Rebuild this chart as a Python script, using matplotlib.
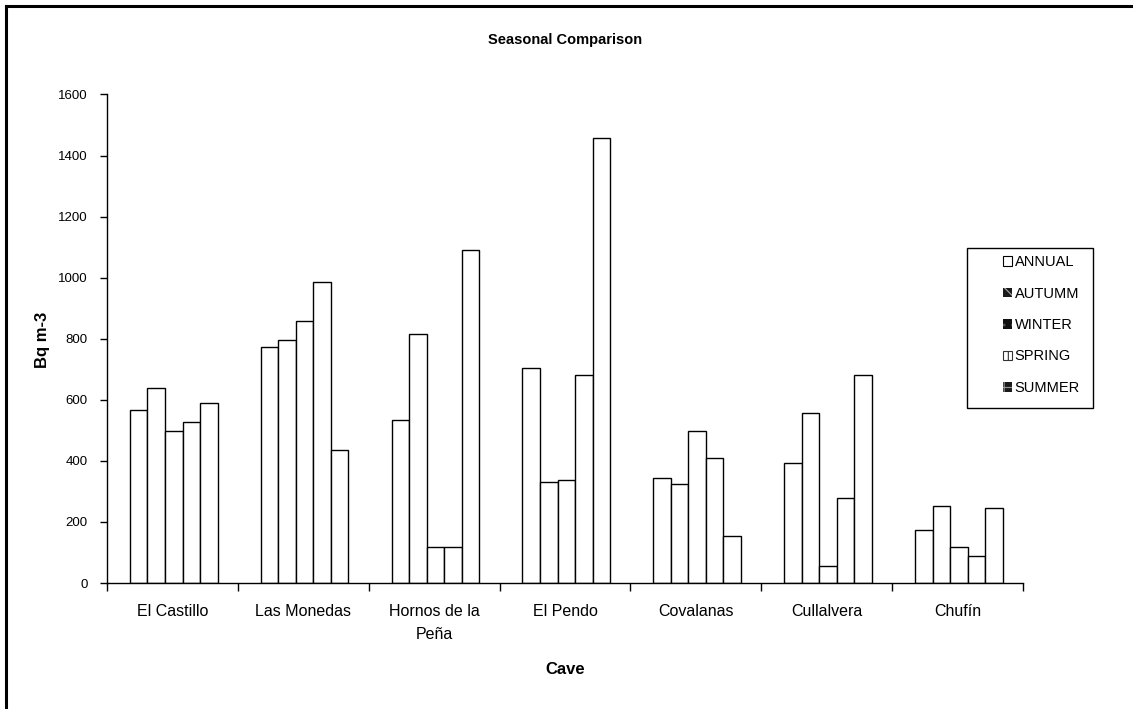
#!/usr/bin/env python3
"""Seasonal comparison of radon levels in caves: grouped bar chart."""

import matplotlib
matplotlib.use("Agg")
import matplotlib.pyplot as plt
from matplotlib.patches import Patch, Rectangle
from matplotlib.lines import Line2D
import numpy as np

caves = ["El Castillo", "Las Monedas", "Hornos de la\nPeña", "El Pendo",
         "Covalanas", "Cullalvera", "Chufín"]
seasons = ["ANNUAL", "AUTUMM", "WINTER", "SPRING", "SUMMER"]
annual = [565, 772, 533, 705, 345, 392, 172]
autumn = [638, 797, 815, 332, 325, 558, 252]
winter = [497, 858, 117, 337, 497, 55, 117]
spring = [528, 986, 117, 680, 410, 277, 87]
summer = [588, 435, 1090, 1457, 155, 680, 245]
yticks = [0, 200, 400, 600, 800, 1000, 1200, 1400, 1600]

plt.rcParams["font.family"] = ["Liberation Sans", "DejaVu Sans"]
plt.rcParams["hatch.linewidth"] = 0.8

W, H = 1133, 709
fig = plt.figure(figsize=(W / 100, H / 100), dpi=100)
ax = fig.add_axes([107 / W, 1 - 583 / H, (1023 - 107) / W, (583 - 94.5) / H])

series = [annual, autumn, winter, spring, summer]
x = np.arange(len(caves))
bw = 0.134
for j, vals in enumerate(series):
    ax.bar(x + (j - 2) * bw + 0.01, vals, width=bw, facecolor="white",
           edgecolor="black", linewidth=1.0)

ax.set_xlim(-0.5, len(caves) - 0.5)
ax.set_ylim(0, 1600)
ax.set_yticks(yticks)
ax.tick_params(axis="y", direction="out", length=5, width=1, pad=9,
               labelsize=9.5)

# category boundaries get the ticks, labels sit in between
ax.set_xticks(np.arange(len(caves) + 1) - 0.5)
ax.set_xticklabels([])
ax.tick_params(axis="x", which="major", direction="out", length=6, width=1)
ax.set_xticks(x, minor=True)
ax.set_xticklabels(caves, minor=True)
ax.tick_params(axis="x", which="minor", length=0, pad=15, labelsize=11.5)
for lbl in ax.get_xticklabels(minor=True):
    lbl.set_linespacing(1.7)

for side in ["top", "right"]:
    ax.spines[side].set_visible(False)
for side in ["left", "bottom"]:
    ax.spines[side].set_linewidth(1)

fig.text(565 / W, 1 - 40 / H, "Seasonal Comparison", ha="center",
         va="center", fontsize=10.5, fontweight="bold")
fig.text(565 / W, 1 - 670 / H, "Cave", ha="center", va="center",
         fontsize=12, fontweight="bold")
fig.text(43 / W, 1 - 340 / H, "Bq m-3", ha="center", va="center",
         rotation=90, fontsize=12, fontweight="bold")

# legend with Excel-like pattern swatches
handles = [
    Patch(facecolor="white", edgecolor="black", linewidth=0.8),
    Patch(facecolor="#1a1a1a", edgecolor="#aaaaaa", hatch="\\\\", linewidth=0),
    Patch(facecolor="#111111", edgecolor="#555555", hatch="..", linewidth=0),
    Patch(facecolor="white", edgecolor="#333333", hatch="|||", linewidth=0.8),
    Patch(facecolor="#1a1a1a", edgecolor="#999999", hatch="++", linewidth=0),
]
fig.add_artist(Rectangle((967 / W, 1 - 408 / H), (1093 - 967) / W, 160 / H,
                         transform=fig.transFigure, facecolor="white",
                         edgecolor="black", linewidth=1))
leg = fig.legend(handles, seasons, loc="upper left",
                 bbox_to_anchor=(1003 / W, 1 - 255 / H), frameon=False,
                 fontsize=10.5, handlelength=0.65, handleheight=0.65,
                 handletextpad=0.15, labelspacing=1.2, borderpad=0,
                 borderaxespad=0)

# chart area border (only left and top visible in the crop)
fig.add_artist(Line2D([6 / W, 6 / W], [0, 1 - 6 / H], transform=fig.transFigure,
                      color="black", linewidth=2.2))
fig.add_artist(Line2D([6 / W, 1], [1 - 6 / H, 1 - 6 / H],
                      transform=fig.transFigure, color="black", linewidth=2.2))

fig.savefig("out.png", dpi=100)
